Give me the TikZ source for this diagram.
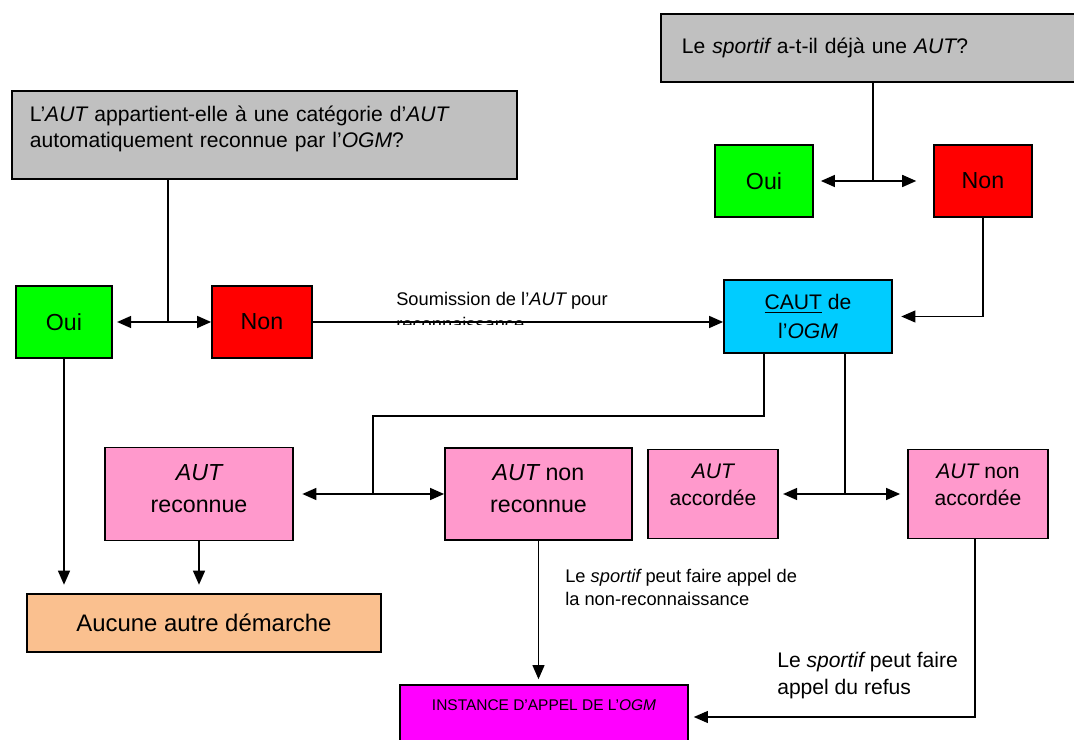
\documentclass[tikz,border=0pt]{standalone}
\usepackage{fontspec}
\setmainfont{Liberation Sans}
\usetikzlibrary{positioning}
\usetikzlibrary{arrows.meta}

\definecolor{qgray}{HTML}{C0C0C0}
\definecolor{ouigreen}{HTML}{00FF00}
\definecolor{nonred}{HTML}{FF0000}
\definecolor{cautblue}{HTML}{00CCFF}
\definecolor{autpink}{HTML}{FF99CC}
\definecolor{aucunetan}{HTML}{FAC08F}
\definecolor{instmagenta}{HTML}{FF00FF}

\newcommand{\qfont}{\fontsize{15pt}{18.5pt}\selectfont}
\newcommand{\boxfont}{\fontsize{16.5pt}{23pt}\selectfont}
\newcommand{\cautfont}{\fontsize{15pt}{20pt}\selectfont}
\newcommand{\accfont}{\fontsize{15pt}{19pt}\selectfont}
\newcommand{\soumfont}{\fontsize{13pt}{17.8pt}\selectfont}
\newcommand{\notefont}{\fontsize{13pt}{16pt}\selectfont}
\newcommand{\refusfont}{\fontsize{15pt}{19.2pt}\selectfont}
\newcommand{\instfont}{\fontsize{11pt}{13pt}\selectfont}
\newcommand{\aucunefont}{\fontsize{17pt}{20pt}\selectfont}

\tikzset{
  box/.style={draw, line width=1.2pt, inner sep=0pt, align=center},
  link/.style={line width=1.2pt},
  thinlink/.style={line width=0.8pt},
  note/.style={inner sep=0pt, align=left, anchor=north west},
  >={Triangle[length=10pt,width=8.5pt]},
}

\begin{document}
\begin{tikzpicture}[x=0.025cm, y=-0.025cm]
  \useasboundingbox (0,0) rectangle (1074,740);

  % questions
  \node[box, fill=qgray, minimum width=12.625cm, minimum height=2.2cm, text width=11.725cm, align=left, text height=11.5pt, text depth=31.4pt, font=\qfont] (q1) at (264.5,135) {L’{\itshape AUT} appartient-elle à une catégorie d’{\itshape AUT}\\automatiquement reconnue par l’{\itshape OGM}?};
  \node[box, fill=qgray, minimum width=10.725cm, minimum height=1.7cm, text width=9.675cm, align=left, font=\qfont] (q2) at (875.5,48) {Le {\itshape sportif} a-t-il déjà une {\itshape AUT}?};

  % answers
  \node[box, fill=ouigreen, minimum width=2.4cm, minimum height=1.8cm, font=\boxfont] (oui1) at (64,322) {Oui};
  \node[box, fill=nonred, minimum width=2.5cm, minimum height=1.8cm, font=\boxfont] (non1) at (262,322) {Non};
  \node[box, fill=ouigreen, minimum width=2.45cm, minimum height=1.8cm, font=\boxfont] (oui2) at (764,181) {Oui};
  \node[box, fill=nonred, minimum width=2.45cm, minimum height=1.8cm, font=\boxfont] (non2) at (983,181) {Non};

  \node[box, fill=cautblue, minimum width=4.2cm, minimum height=1.825cm, font=\cautfont] (caut) at (808,316.5) {\underline{CAUT} de\\l’{\itshape OGM}};

  % decisions
  \node[box, fill=autpink, minimum width=4.7cm, minimum height=2.325cm, text height=35pt, text depth=8pt, font=\boxfont] (autrec) at (199,494) {{\itshape AUT}\\reconnue};
  \node[box, fill=autpink, minimum width=4.675cm, minimum height=2.3cm, text height=35pt, text depth=8pt, font=\boxfont] (autnrec) at (538.5,494) {{\itshape AUT} non\\reconnue};
  \node[box, fill=autpink, minimum width=3.25cm, minimum height=2.225cm, text height=30pt, text depth=13.4pt, font=\accfont] (autacc) at (713,494) {{\itshape AUT}\\accordée};
  \node[box, fill=autpink, minimum width=3.5cm, minimum height=2.225cm, text height=30pt, text depth=13.4pt, font=\accfont] (autnacc) at (978,494) {{\itshape AUT} non\\accordée};

  \node[box, fill=aucunetan, minimum width=8.85cm, minimum height=1.45cm, font=\aucunefont] (aucune) at (204,623) {Aucune autre démarche};
  \node[box, fill=instmagenta, minimum width=7.2cm, minimum height=1.875cm, text height=8pt, text depth=24.4pt, font=\instfont] (instance) at (544,722.5) {INSTANCE D’APPEL DE L’{\itshape OGM}};

  % labels
  \begin{scope}
    \clip (380,280) rectangle (720,325);
    \node[note, font=\soumfont] (lblsoum) at (396,292) {Soumission de l’{\itshape AUT} pour\\reconnaissance};
  \end{scope}
  \node[note, font=\notefont] (lblnrec) at (565,569) {Le {\itshape sportif} peut faire appel de\\la non-reconnaissance};
  \node[note, font=\refusfont] (lblrefus) at (777,652) {Le {\itshape sportif} peut faire\\appel du refus};

  % connectors
  \coordinate (j1) at (168,322);
  \draw[thinlink] (q1.south -| j1) -- (j1);
  \draw[link, <->, shorten <=3pt] (oui1) -- (non1);
  \draw[link, ->] (non1) -- (non1 -| caut.west);

  \coordinate (j2) at (873,181);
  \draw[thinlink] (q2.south -| j2) -- (j2);
  \draw[link, <->, shorten <=5pt, shorten >=12pt] (oui2) -- (non2);
  \draw[thinlink, ->, shorten >=6pt] (non2.south) |- (caut.east);

  \coordinate (j3) at (373,494);
  \coordinate (k1) at (764,416);
  \draw[thinlink] (caut.south -| k1) -- (k1) -| (j3);
  \draw[link, <->, shorten <=6pt] (autrec) -- (autnrec);

  \coordinate (j4) at (845,494);
  \draw[thinlink] (caut.south -| j4) -- (j4);
  \draw[link, <->, shorten <=3pt, shorten >=5pt] (autacc) -- (autnacc);

  \draw[link, ->, shorten >=6pt] (oui1) -- (oui1 |- aucune.north);
  \draw[link, ->, shorten >=6pt] (autrec) -- (autrec |- aucune.north);
  \draw[thinlink, ->, shorten >=3.5pt] (autnrec) -- (autnrec |- instance.north);

  \coordinate (k2) at (975,717);
  \draw[thinlink, ->, shorten >=3.5pt] (autnacc.south -| k2) -- (k2) -- (k2 -| instance.east);
\end{tikzpicture}
\end{document}
